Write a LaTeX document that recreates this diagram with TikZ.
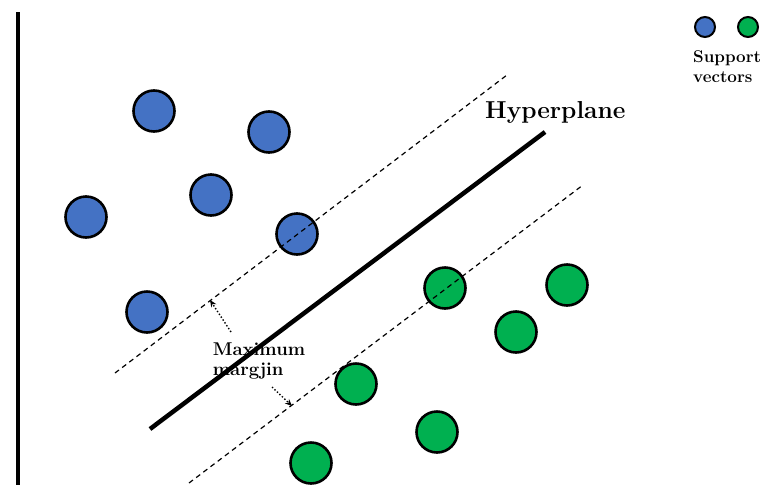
\documentclass[tikz,border=0pt]{standalone}
\usepackage{tikz}
\usetikzlibrary{arrows.meta,positioning}
\definecolor{svmblue}{HTML}{4472C4}
\definecolor{svmgreen}{HTML}{00B050}

\begin{document}
\begin{tikzpicture}[
    x=1pt, y=-1pt,
    bluept/.style={circle, draw=black, line width=2.6pt, fill=svmblue, minimum size=41pt, inner sep=0pt},
    greenpt/.style={circle, draw=black, line width=2.6pt, fill=svmgreen, minimum size=41pt, inner sep=0pt},
    keydot/.style={circle, draw=black, line width=2pt, minimum size=20pt, inner sep=0pt},
    marginline/.style={line width=1.2pt, dash pattern=on 5pt off 4pt},
    arrow/.style={-{Stealth[length=7pt,width=6pt]}, dotted, line width=1.4pt},
    caption/.style={font=\bfseries, align=left, inner sep=0pt}
]
\useasboundingbox (0,0) rectangle (765,485);

% Axis
\coordinate (axtop) at (18,12);
\coordinate (axbot) at (18,485);
\draw[line width=4pt] (axtop) -- (axbot);

% Blue class
\node[bluept] (b1) at (154,111) {};
\node[bluept] (b2) at (269,132) {};
\node[bluept] (b3) at (211,195) {};
\node[bluept] (b4) at (86,217) {};
\node[bluept] (b5) at (297,234) {};
\node[bluept] (b6) at (147,312) {};

% Green class
\node[greenpt] (g1) at (445,288) {};
\node[greenpt] (g2) at (567,285) {};
\node[greenpt] (g3) at (516,332) {};
\node[greenpt] (g4) at (356,384) {};
\node[greenpt] (g5) at (437,432) {};
\node[greenpt] (g6) at (311,463) {};

% Hyperplane and margins
\coordinate (hpA) at (150,429);
\coordinate (hpB) at (545,132);
\coordinate (upA) at (115,373);
\coordinate (upB) at (507,75);
\coordinate (loA) at (189,483);
\coordinate (loB) at (583,185);
\draw[line width=4.5pt] (hpA) -- (hpB);
\draw[marginline] (upA) -- (upB);
\draw[marginline] (loA) -- (loB);

\node[caption, font=\fontsize{24.5}{28}\selectfont\bfseries, anchor=base west] (hp) at (485,118) {Hyperplane};

% Maximum margin
\node[caption, font=\fontsize{18.5}{20}\selectfont\bfseries] (mm) at (259,361) {Maximum\\margjin};
\coordinate (tailup) at (231,332);
\coordinate (tipup) at (210,300);
\coordinate (taildn) at (272,387);
\coordinate (tipdn) at (292,406);
\draw[arrow] (tailup) -- (tipup);
\draw[arrow] (taildn) -- (tipdn);

% Legend
\node[keydot, fill=svmblue] (kb) at (705,27) {};
\node[keydot, fill=svmgreen] (kg) at (748,27) {};
\node[caption, font=\fontsize{17}{20}\selectfont\bfseries, anchor=north west] (sv) at (693,50) {Support\\vectors};

\end{tikzpicture}
\end{document}
